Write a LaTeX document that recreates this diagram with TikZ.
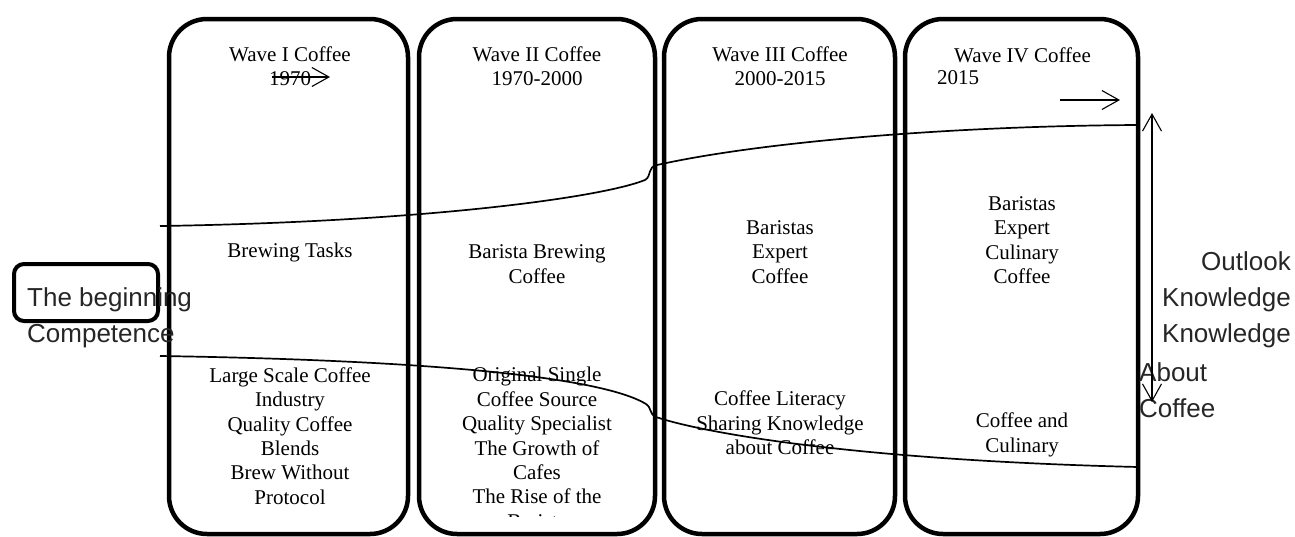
\documentclass[tikz,border=0pt]{standalone}
\usepackage{fontspec}
\setmainfont{Liberation Serif}
\newfontfamily\arialfont{Liberation Sans}
\usetikzlibrary{arrows.meta}
\tikzset{
  wavebox/.style={draw, line width=4.5pt, rounded corners=38pt, minimum height=515pt, inner sep=0pt},
  txt/.style={font=\fontsize{21pt}{24.4pt}\selectfont, align=center, inner sep=0pt},
  sans/.style={font=\arialfont\fontsize{26pt}{36pt}\selectfont, inner sep=0pt, text=black!85},
  curve/.style={line width=1.7pt},
  barb/.style={line width=1.1pt, -{Straight Barb[length=17pt,width=19pt]}},
  dbarb/.style={line width=1.1pt, {Straight Barb[length=17pt,width=19pt]}-{Straight Barb[length=17pt,width=19pt]}}
}
\begin{document}
\begin{tikzpicture}[x=1pt,y=-1pt]
\useasboundingbox (0,0) rectangle (1295,536);

% wave boxes
\node[wavebox, minimum width=239pt] (w1) at (288.5,276.5) {};
\node[wavebox, minimum width=236pt] (w2) at (537,276.5) {};
\node[wavebox, minimum width=231pt] (w3) at (779.5,276.5) {};
\node[wavebox, minimum width=233pt] (w4) at (1021.5,276.5) {};

% headers
\node[txt] (h1) at (290,66.5) {Wave I Coffee\\1970};
\node[txt] (h2) at (537,66.5) {Wave II Coffee\\1970-2000};
\node[txt] (h3) at (780,66.5) {Wave III Coffee\\2000-2015};
\node[txt] (h4a) at (1022.5,55) {Wave IV Coffee};
\node[txt, anchor=west] (h4b) at (937,78) {2015};

% header arrows
\coordinate (a1s) at (272,77);
\coordinate (a1e) at (330,77);
\draw[barb] (a1s) -- (a1e);
\coordinate (a4s) at (1060,100);
\coordinate (a4e) at (1120,100);
\draw[barb] (a4s) -- (a4e);

% middle texts
\node[txt] (m1) at (290,252) {Brewing Tasks};
\node[txt] (m2) at (537,264) {Barista Brewing\\Coffee};
\node[txt] (m3) at (780,252) {Baristas\\Expert\\Coffee};
\node[txt] (m4) at (1022,240) {Baristas\\Expert\\Culinary\\Coffee};

% bottom texts
\node[txt] (b1) at (290,436) {Large Scale Coffee\\Industry\\Quality Coffee\\Blends\\Brew Without\\Protocol};
\begin{scope}
\clip (417,0) rectangle (657,516);
\node[txt] (b2) at (537,448) {Original Single\\Coffee Source\\Quality Specialist\\The Growth of\\Cafes\\The Rise of the\\Barista};
\end{scope}
\node[txt] (b3) at (780,423) {Coffee Literacy\\Sharing Knowledge\\about Coffee};
\node[txt] (b4) at (1022,435) {Coffee and\\Culinary};

% left label
\node[draw, line width=4pt, rounded corners=10pt, minimum width=144pt, minimum height=57pt, inner sep=0pt] (lb) at (86,292.5) {};
\node[sans, align=left, anchor=west] (lt) at (27,317.5) {The beginning\\Competence};

% right labels
\node[sans, align=right, anchor=east] (rt1) at (1291,299.5) {Outlook\\Knowledge\\Knowledge};
\node[sans, align=left, anchor=west] (rt2) at (1139,390) {About\\Coffee};

% upper curve
\coordinate (u0) at (160,226);
\coordinate (u1) at (645,180);
\coordinate (u2) at (657,165);
\coordinate (u3) at (1138,125);
\draw[curve] (u0) .. controls (420,222) and (600,198) .. (u1)
  .. controls (652,176) and (647,167) .. (u2)
  .. controls (760,142) and (950,126) .. (u3);

% lower curve
\coordinate (l0) at (160,356);
\coordinate (l1) at (646,404);
\coordinate (l2) at (656,417);
\coordinate (l3) at (1138,467);
\draw[curve] (l0) .. controls (420,360) and (600,376) .. (l1)
  .. controls (652,408) and (649,414) .. (l2)
  .. controls (700,432) and (850,460) .. (l3);

% vertical double arrow
\coordinate (da) at (1152,113);
\coordinate (db) at (1152,402);
\draw[dbarb] (da) -- (db);
\end{tikzpicture}
\end{document}
